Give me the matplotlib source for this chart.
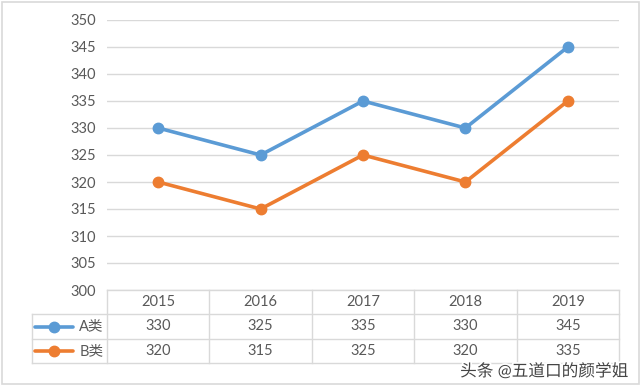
import matplotlib.pyplot as plt
import matplotlib.patheffects as pe
from matplotlib.patches import Rectangle

# ------------------------------------------------------------
# Data
# ------------------------------------------------------------
years = ["2015", "2016", "2017", "2018", "2019"]
series_names = ["A类", "B类"]
a_values = [330, 325, 335, 330, 345]
b_values = [320, 315, 325, 320, 335]
y_ticks = [300, 305, 310, 315, 320, 325, 330, 335, 340, 345, 350]

COLORS = ["#5B9BD5", "#ED7D31"]
GRID = "#D9D9D9"
TEXT = "#595959"
FS = 10.5

plt.rcParams["font.family"] = ["Lato", "Noto Sans CJK SC", "DejaVu Sans"]

W, H = 640, 385
fig = plt.figure(figsize=(W / 100, H / 100), dpi=100)


def px_axes(x0, y0, x1, y1):
    """Axes from pixel box (top-left origin)."""
    return fig.add_axes([x0 / W, 1 - y1 / H, (x1 - x0) / W, (y1 - y0) / H])


# outer frame
fig.patches.append(Rectangle((1.5 / W, 1.5 / H), 1 - 3 / W, 1 - 3 / H,
                             transform=fig.transFigure, fill=False,
                             edgecolor=GRID, linewidth=1.2))

# ------------------------------------------------------------
# Main line chart
# ------------------------------------------------------------
ax = px_axes(107, 20, 619, 290)
xs = list(range(len(years)))
for vals, col in zip([a_values, b_values], COLORS):
    ax.plot(xs, vals, color=col, linewidth=2.6, marker="o", markersize=7.5,
            solid_capstyle="round", zorder=3)

ax.set_xlim(-0.5, len(years) - 0.5)
ax.set_ylim(300, 350)
ax.set_yticks(y_ticks)
ax.set_xticks([])
ax.grid(axis="y", color=GRID, linewidth=1)
ax.tick_params(axis="y", length=0, pad=8, labelsize=FS, labelcolor=TEXT)
for s in ax.spines.values():
    s.set_visible(False)

# ------------------------------------------------------------
# Data table below the plot
# ------------------------------------------------------------
tax = px_axes(107, 290, 619, 363)
tax.set_xlim(-0.5, len(years) - 0.5)
tax.set_ylim(3, 0)
tax.axis("off")

left = -0.5 - 75 / 102.4
right = len(years) - 0.5
lkw = dict(color=GRID, linewidth=1, clip_on=False)
tax.plot([-0.5, right], [0, 0], **lkw)
for r in (1, 2, 3):
    tax.plot([left, right], [r, r], **lkw)
tax.plot([left, left], [1, 3], **lkw)
tax.plot([-0.5, -0.5], [0, 3], **lkw)
for i in range(len(years)):
    tax.plot([i + 0.5, i + 0.5], [0, 3], **lkw)

for i, yr in enumerate(years):
    tax.text(i, 0.5, yr, ha="center", va="center", fontsize=FS, color=TEXT)
for r, (name, vals, col) in enumerate(zip(series_names, [a_values, b_values], COLORS), start=1):
    for i, v in enumerate(vals):
        tax.text(i, r + 0.5, str(v), ha="center", va="center", fontsize=FS, color=TEXT)
    tax.plot([left + 0.03, left + 0.40], [r + 0.5, r + 0.5], color=col,
             linewidth=2.6, clip_on=False, solid_capstyle="round")
    tax.plot([left + 0.215], [r + 0.5], "o", color=col, markersize=7.5, clip_on=False)
    tax.text(-0.53, r + 0.5, name, ha="right", va="center", fontsize=FS, color=TEXT)

# watermark
fig.text(628 / W, 1 - 371 / H, "头条 @五道口的颜学姐", ha="right", va="center",
         fontsize=12, color="#444444",
         path_effects=[pe.withStroke(linewidth=2.5, foreground="white")])

fig.savefig("out.png", dpi=100)
